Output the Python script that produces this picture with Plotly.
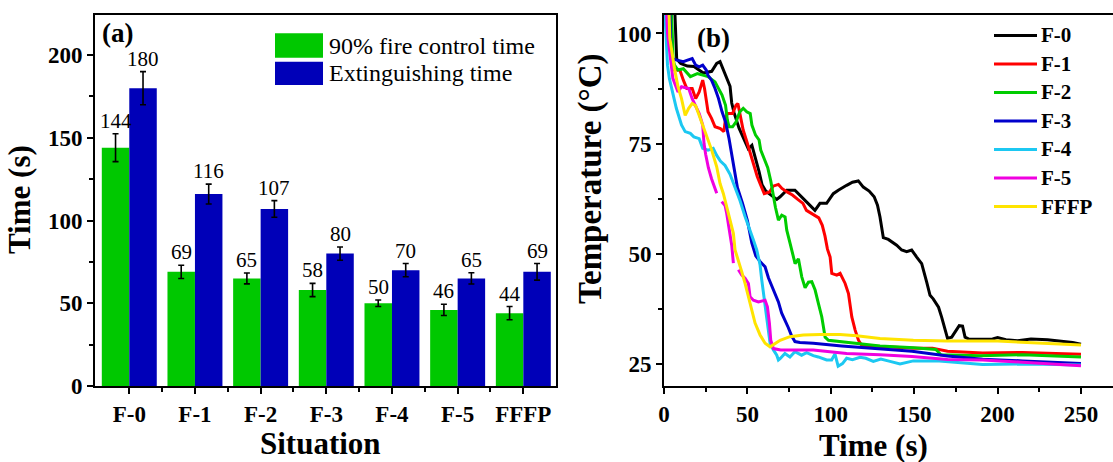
import plotly.graph_objects as go

# ---- panel (a): fire control / extinguishing times ----
situations = ["F-0", "F-1", "F-2", "F-3", "F-4", "F-5", "FFFP"]
control_time = [144, 69, 65, 58, 50, 46, 44]
control_err = [8.4, 4.0, 3.3, 4.0, 2.0, 3.4, 4.0]
extinguish_time = [180, 116, 107, 80, 70, 65, 69]
extinguish_err = [10.0, 6.0, 5.0, 4.0, 4.0, 3.4, 5.0]

# ---- panel (b): temperature histories, (time s, temperature °C); None = gap ----
temp_f0 = [
    (6.5, 105.0), (7.6, 94.2), (10.0, 93.2), (14.0, 92.6), (18.0, 92.5), (23.6, 91.0),
    (28.6, 91.4), (31.6, 93.2), (33.6, 93.6), (35.6, 91.7), (37.6, 90.2), (39.6, 88.0),
    (40.6, 84.2), (42.0, 82.0), (45.0, 78.5), (48.0, 76.0), (50.5, 73.8), (52.7, 74.6),
    (54.9, 71.6), (57.0, 68.6), (58.8, 65.6), (61.0, 64.2), (63.0, 63.6), (67.6, 62.3),
    (69.6, 62.9), (73.6, 64.4), (78.5, 64.4), (82.5, 62.9), (86.5, 61.4), (90.5, 59.8),
    (93.5, 61.4), (97.5, 61.4), (101.5, 63.6), (104.5, 64.4), (109.5, 65.5), (113.0, 66.2),
    (116.5, 66.5), (119.5, 65.1), (123.0, 64.2), (126.0, 62.9), (128.0, 61.0), (129.5, 58.3),
    (131.5, 53.6), (134.5, 53.2), (139.5, 51.9), (142.5, 50.8), (145.5, 50.4), (148.5, 50.8),
    (151.5, 49.2), (154.5, 47.7), (157.5, 43.5), (159.5, 40.5), (161.4, 39.7), (164.6, 37.8),
    (166.5, 35.5), (168.0, 33.2), (170.0, 30.7), (172.5, 31.0), (175.0, 32.5), (177.0, 33.6),
    (179.0, 33.5), (180.5, 31.0), (183.0, 30.5), (190.0, 30.5), (197.0, 30.6), (200.0, 30.9),
    (205.0, 30.4), (212.0, 30.2), (220.0, 30.6), (230.0, 30.4), (237.0, 30.1), (245.0, 29.8),
    (250.0, 29.4),
]
temp_f1 = [
    (4.0, 105.0), (5.0, 93.0), (6.3, 91.7), (9.5, 91.7), (11.6, 89.4), (13.7, 87.5),
    (16.9, 87.5), (19.0, 85.2), (21.1, 86.7), (23.2, 89.4), (24.3, 87.5), (25.3, 85.2),
    (26.4, 82.2), (28.5, 80.7), (30.6, 78.8), (33.8, 78.4), (35.9, 77.7), (36.9, 80.7),
    (38.0, 81.8), (41.1, 81.8), (43.2, 83.7), (44.3, 84.1), (45.4, 82.2), (46.4, 80.7),
    (47.5, 78.0), (49.6, 75.5), (51.7, 72.7), (53.8, 70.0), (55.9, 67.5), (58.0, 65.5),
    (60.1, 63.6), (63.3, 64.0), (65.4, 65.3), (68.6, 65.7), (70.7, 64.8), (73.8, 64.0),
    (77.0, 63.3), (80.2, 62.3), (83.3, 61.4), (85.4, 59.8), (89.7, 58.7), (92.8, 58.1),
    (94.9, 56.4), (96.5, 54.0), (98.0, 51.0), (99.6, 49.2), (100.6, 45.5), (103.6, 45.1),
    (105.6, 45.5), (108.6, 43.2), (110.6, 40.9), (111.6, 37.9), (112.6, 35.6), (114.6, 32.6),
    (116.6, 30.3), (118.6, 29.1), (125.0, 29.0), (135.0, 28.8), (150.0, 28.5), (161.0, 28.5),
    (170.0, 27.8), (191.0, 27.4), (215.0, 27.5), (235.0, 27.3), (250.0, 27.1),
]
temp_f2 = [
    (4.5, 105.0), (5.5, 94.0), (6.3, 92.8), (8.4, 91.7), (11.6, 92.0), (15.8, 90.2),
    (20.0, 90.9), (23.2, 90.5), (26.4, 90.2), (30.6, 89.0), (32.7, 87.5), (34.8, 86.0),
    (36.9, 83.7), (38.0, 80.3), (39.0, 78.8), (41.1, 78.8), (43.2, 79.9), (45.4, 82.2),
    (47.5, 83.0), (49.6, 82.2), (51.7, 81.8), (52.7, 79.2), (54.9, 76.9), (57.0, 75.8),
    (58.0, 73.5), (60.1, 71.5), (62.2, 69.5), (64.0, 66.5), (65.6, 63.0), (66.8, 60.5),
    (68.6, 57.6), (70.6, 58.7), (72.6, 58.3), (73.6, 55.3), (75.6, 52.3), (77.6, 49.2),
    (78.6, 47.7), (80.6, 48.8), (82.6, 44.7), (84.6, 42.2), (86.6, 43.5), (88.6, 43.6),
    (90.6, 41.7), (92.6, 38.6), (94.6, 35.6), (95.6, 33.3), (96.6, 31.0), (98.6, 30.3),
    (109.5, 29.9), (119.5, 29.5), (129.5, 29.0), (150.0, 28.6), (163.0, 28.2), (166.0, 27.0),
    (190.0, 26.8), (215.0, 27.0), (235.0, 26.8), (250.0, 26.5),
]
temp_f3 = [
    (3.5, 105.0), (4.2, 94.3), (8.4, 93.9), (11.6, 93.6), (13.7, 93.9), (16.9, 94.3),
    (19.0, 92.8), (21.1, 92.4), (23.2, 92.8), (25.3, 91.7), (26.4, 90.5), (28.5, 89.4),
    (30.6, 87.5), (32.7, 85.2), (34.8, 82.2), (36.9, 79.9), (39.0, 76.1), (41.5, 70.5),
    (44.0, 65.0), (47.0, 61.5), (50.0, 57.5), (52.6, 52.5), (55.0, 49.5), (58.0, 48.0),
    (60.6, 47.0), (62.6, 44.5), (65.6, 41.7), (68.6, 39.0), (70.5, 36.5), (72.5, 35.0),
    (74.5, 33.2), (76.5, 31.3), (78.5, 30.0), (81.5, 29.8), (89.5, 29.6), (106.5, 29.0),
    (129.5, 28.3), (148.7, 27.8), (170.0, 26.7), (191.0, 26.0), (215.0, 25.6), (250.0, 25.0),
]
temp_f4 = [
    (0.5, 105.0), (1.0, 100.0), (2.1, 92.8), (3.2, 89.8), (5.3, 86.7), (7.4, 83.0),
    (10.5, 79.2), (12.7, 77.7), (15.8, 77.3), (17.9, 76.5), (21.1, 76.1), (23.2, 73.9),
    (26.4, 73.5), (29.5, 73.9), (31.6, 72.3), (33.8, 71.0), (36.6, 70.0), (39.6, 68.0),
    (42.6, 65.0), (45.6, 62.0), (48.6, 58.4), (51.6, 55.4), (53.6, 53.1), (55.6, 50.8),
    (57.6, 47.4), (58.6, 44.0), (59.6, 41.0), (60.6, 37.9), (61.6, 34.9), (62.6, 31.9),
    (63.6, 29.6), (65.6, 28.1), (67.6, 26.9), (68.6, 25.8), (69.6, 26.1), (72.5, 27.3),
    (75.5, 26.5), (78.5, 27.7), (82.5, 26.9), (85.5, 27.5), (89.5, 26.8), (92.5, 26.5),
    (97.5, 25.8), (100.5, 25.8), (102.5, 27.2), (104.4, 24.4), (107.0, 25.0), (109.5, 26.2),
    (113.0, 25.9), (117.5, 26.4), (121.0, 26.2), (125.5, 25.5), (130.0, 26.0), (135.5, 25.5),
    (141.5, 24.9), (149.5, 25.6), (165.0, 25.6), (191.0, 24.8), (220.0, 24.9), (250.0, 24.7),
]
temp_f5 = [
    (1.5, 105.0), (2.1, 100.0), (5.3, 89.8), (8.4, 86.7), (10.5, 87.9), (14.8, 87.5),
    (16.9, 85.2), (19.0, 83.3), (21.1, 81.8), (23.2, 79.2), (24.0, 75.0), (25.0, 72.5),
    (26.6, 69.5), (28.5, 67.0), (30.6, 65.0), (31.6, 63.7), (33.0, None), (34.6, 61.8),
    (36.6, 60.9), (37.6, 59.1), (39.6, 54.6), (40.6, 51.9), (41.6, 47.8), (43.0, None),
    (44.6, 46.3), (46.6, 45.1), (48.6, 44.4), (50.6, 43.2), (51.6, 40.2), (53.6, 39.4),
    (56.6, 39.0), (60.6, 39.4), (62.0, 37.9), (63.2, 34.2), (64.0, 30.3), (65.6, 28.4),
    (70.0, 28.1), (89.5, 28.1), (99.5, 27.7), (109.5, 27.3), (129.5, 27.0), (148.7, 26.6),
    (170.0, 25.9), (191.0, 25.8), (215.0, 25.3), (250.0, 24.5),
]
temp_fffp = [
    (3.0, 105.0), (3.5, 98.9), (6.3, 92.0), (8.4, 87.9), (10.5, 85.2), (11.6, 83.0),
    (12.7, 81.4), (14.8, 83.0), (16.9, 84.1), (19.0, 83.6), (21.1, 81.4), (23.2, 78.8),
    (25.3, 76.9), (27.4, 74.6), (28.6, 73.5), (31.6, 69.7), (33.6, 65.9), (35.6, 63.6),
    (37.6, 60.6), (39.6, 57.6), (41.6, 54.6), (42.6, 50.8), (44.6, 48.6), (46.6, 45.9),
    (48.6, 43.2), (50.6, 40.2), (52.6, 37.2), (54.6, 34.2), (57.6, 31.5), (60.6, 29.6),
    (63.6, 28.8), (66.6, 29.6), (69.6, 30.3), (75.5, 31.1), (83.5, 31.5), (93.6, 31.6),
    (105.5, 31.6), (115.5, 31.3), (129.5, 30.7), (149.5, 30.3), (170.0, 30.1), (200.0, 30.1),
    (225.0, 29.7), (250.0, 29.2),
]

series_names = ["F-0", "F-1", "F-2", "F-3", "F-4", "F-5", "FFFP"]
series_data = [temp_f0, temp_f1, temp_f2, temp_f3, temp_f4, temp_f5, temp_fffp]
series_colors = ["#000000", "#FF0000", "#00CC00", "#0000CC", "#1CC8F2", "#F000E0", "#FFE400"]

FONT = "Liberation Serif"
GREEN = "#00C800"
BLUE = "#0000B8"
W, H = 1113, 462


def px_x(p):
    return p / W


def px_y(p):
    return (H - p) / H


fig = go.Figure()

idx = list(range(len(situations)))
fig.add_bar(
    x=idx, y=control_time, name="90% fire control time",
    marker=dict(color=GREEN, line=dict(width=0)),
    error_y=dict(type="data", array=control_err, color="black", thickness=1.6, width=3),
    xaxis="x", yaxis="y", showlegend=False,
)
fig.add_bar(
    x=idx, y=extinguish_time, name="Extinguishing time",
    marker=dict(color=BLUE, line=dict(width=0)),
    error_y=dict(type="data", array=extinguish_err, color="black", thickness=1.6, width=3),
    xaxis="x", yaxis="y", showlegend=False,
)

for name, data, color in zip(series_names, series_data, series_colors):
    fig.add_scatter(
        x=[p[0] for p in data], y=[p[1] for p in data], mode="lines", name=name,
        line=dict(color=color, width=3), xaxis="x2", yaxis="y2", showlegend=False,
    )

annotations = []
BAR_HALF = (1 - 0.163) / 4
value_font = dict(family=FONT, size=21, color="black")
for i in idx:
    annotations.append(dict(
        x=i - BAR_HALF, y=control_time[i] + control_err[i], xref="x", yref="y",
        text=str(control_time[i]), showarrow=False, xanchor="center", yanchor="bottom",
        yshift=-1, font=value_font,
    ))
    annotations.append(dict(
        x=i + BAR_HALF, y=extinguish_time[i] + extinguish_err[i], xref="x", yref="y",
        text=str(extinguish_time[i]), showarrow=False, xanchor="center", yanchor="bottom",
        yshift=-1, font=value_font,
    ))


def label(x, y, text, size, bold=True, angle=0, xanchor="center"):
    font = dict(family=FONT, size=size, color="black")
    if bold:
        font["weight"] = "bold"
    return dict(x=px_x(x), y=px_y(y), xref="paper", yref="paper", text=text,
                showarrow=False, textangle=angle, xanchor=xanchor, yanchor="middle",
                font=font)


annotations += [
    label(117, 33, "(a)", 27),
    label(713, 38, "(b)", 27),
    label(320, 443, "Situation", 31),
    label(873, 445, "Time (s)", 31),
    label(19, 200, "Time (s)", 31, angle=-90),
    label(590, 179, "Temperature (°C)", 33, angle=-90),
]

shapes = []
# legend for panel (a)
bar_legend = [("90% fire control time", GREEN, 33.3, 57.7), ("Extinguishing time", BLUE, 61.7, 85.0)]
for text, color, y0, y1 in bar_legend:
    shapes.append(dict(type="rect", xref="paper", yref="paper", x0=px_x(275), x1=px_x(323),
                       y0=px_y(y1), y1=px_y(y0), fillcolor=color, line=dict(width=0)))
    annotations.append(label(327, (y0 + y1) / 2, text, 24, bold=False, xanchor="left"))
# legend for panel (b)
for k, (name, color) in enumerate(zip(series_names, series_colors)):
    yy = 35.5 + 28.5 * k
    shapes.append(dict(type="line", xref="paper", yref="paper", x0=px_x(994), x1=px_x(1037),
                       y0=px_y(yy), y1=px_y(yy), line=dict(color=color, width=3)))
    annotations.append(label(1039, yy, name, 21, xanchor="left"))

tick_font = dict(family=FONT, size=23, color="black", weight="bold")
axis_common = dict(showgrid=False, zeroline=False, showline=True, linecolor="black",
                   linewidth=2, ticks="outside", ticklen=6, tickwidth=2, tickcolor="black",
                   tickfont=tick_font, automargin=False)
y_domain = [px_y(386), px_y(15)]

fig.update_layout(
    width=W, height=H, margin=dict(l=0, r=0, t=0, b=0, autoexpand=False),
    paper_bgcolor="white", plot_bgcolor="white",
    barmode="group", bargap=0.163, bargroupgap=0,
    xaxis=dict(domain=[px_x(95), px_x(555.5)], range=[-0.522, 6.49], anchor="y",
               tickmode="array", tickvals=idx, ticktext=situations, mirror=True,
               minor=dict(tickmode="array", tickvals=[i + 0.5 for i in idx[:-1]],
                          ticks="outside", ticklen=4, tickwidth=1.5, tickcolor="black"),
               **axis_common),
    yaxis=dict(domain=y_domain, range=[0, 224.2], anchor="x", tickmode="linear", tick0=0,
               dtick=50, mirror=True,
               minor=dict(tick0=0, dtick=25, ticks="outside", ticklen=4, tickwidth=1.5,
                          tickcolor="black"),
               **axis_common),
    xaxis2=dict(domain=[px_x(664), 1.0], range=[0, 269.2], anchor="y2", tickmode="linear",
                tick0=0, dtick=50, mirror=True,
                minor=dict(tick0=0, dtick=25, ticks="outside", ticklen=4, tickwidth=1.5,
                           tickcolor="black"),
                **axis_common),
    yaxis2=dict(domain=y_domain, range=[19.9, 104.2], anchor="x2", tickmode="linear",
                tick0=0, dtick=25, mirror=False,
                minor=dict(tick0=0, dtick=12.5, ticks="outside", ticklen=4, tickwidth=1.5,
                           tickcolor="black"),
                **axis_common),
    annotations=annotations, shapes=shapes,
)

fig.write_html("out.html")
